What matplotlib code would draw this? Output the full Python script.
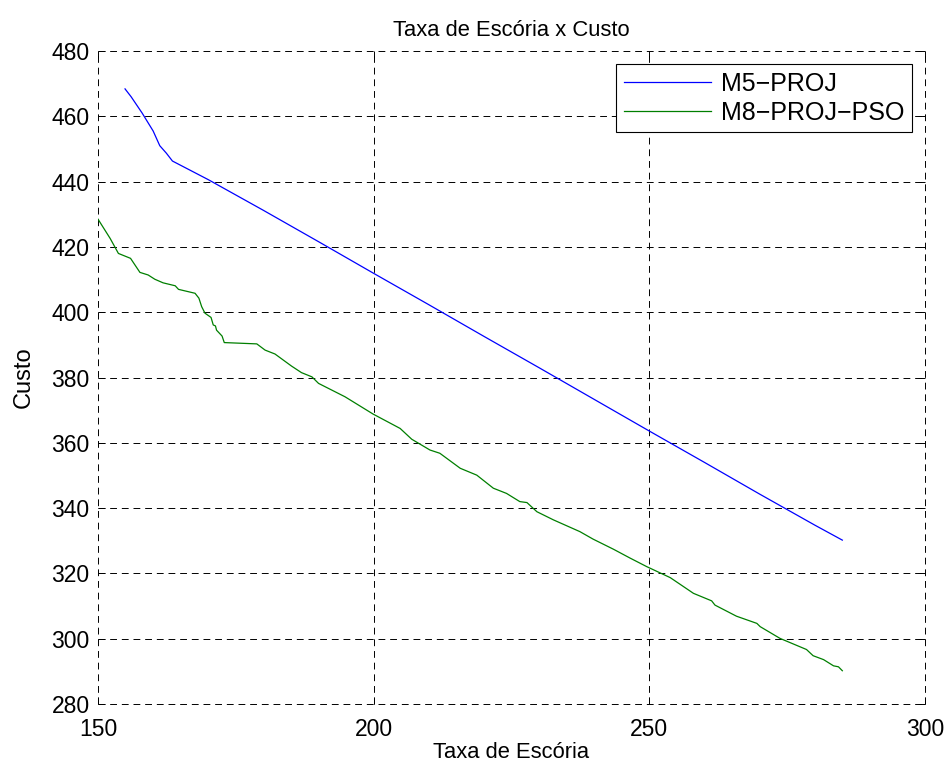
import matplotlib
matplotlib.use("Agg")
import matplotlib.pyplot as plt

# Slag rate vs cost for the two models
m5_x = [154.9, 156.0, 158.0, 160.0, 161.2, 162.4, 163.5, 170.0, 180.0, 190.0,
        200.0, 210.0, 220.0, 230.0, 240.0, 250.0, 260.0, 270.0, 280.0, 285.0]
m5_y = [468.4, 466.0, 461.0, 455.5, 451.0, 448.7, 446.3, 440.6, 431.2, 421.6,
        411.9, 402.3, 392.6, 383.0, 373.3, 363.6, 354.0, 344.3, 334.8, 330.2]

m8_x = [150.0, 152.2, 153.7, 155.9, 157.6, 159.1, 160.3, 161.8, 164.0, 164.6,
        167.6, 168.3, 168.8, 169.4, 170.5, 170.9, 171.3, 171.5, 172.5, 172.9,
        178.8, 180.3, 182.1, 185.1, 186.9, 188.8, 190.0, 194.8, 199.9, 204.8,
        206.9, 210.2, 212.0, 215.7, 218.7, 221.7, 224.1, 226.5, 227.8, 229.6,
        232.6, 237.4, 239.8, 243.5, 246.5, 249.5, 253.8, 258.0, 261.3, 261.9,
        265.8, 269.5, 270.1, 273.7, 278.5, 279.7, 281.6, 283.4, 284.3, 285.0]
m8_y = [428.5, 422.6, 418.0, 416.5, 412.2, 411.4, 410.1, 409.0, 408.1, 407.0,
        405.8, 404.3, 401.7, 399.7, 398.4, 396.1, 395.8, 394.5, 392.7, 390.7,
        390.3, 388.4, 387.2, 383.5, 381.5, 380.2, 378.2, 374.1, 368.8, 364.4,
        361.1, 357.8, 356.8, 352.2, 350.1, 346.1, 344.5, 342.0, 341.7, 338.9,
        336.4, 332.8, 330.5, 327.4, 324.7, 322.1, 318.7, 313.9, 311.6, 310.3,
        306.9, 304.7, 303.7, 300.1, 296.7, 294.8, 293.6, 291.7, 291.4, 290.2]

x_ticks = [150, 200, 250, 300]
y_ticks = [280, 300, 320, 340, 360, 380, 400, 420, 440, 460, 480]

plt.rcParams['font.family'] = ['Liberation Sans', 'DejaVu Sans']

fig = plt.figure(figsize=(9.47, 7.67), dpi=100)
ax = fig.add_axes([0.1035, 0.0821, 0.8733, 0.8514])

ax.plot(m5_x, m5_y, color='#0000ff', lw=0.9, label='M5\u2212PROJ')
ax.plot(m8_x, m8_y, color='#007f00', lw=0.9, label='M8\u2212PROJ\u2212PSO')

ax.set_xlim(150, 300)
ax.set_ylim(280, 480)
ax.set_xticks(x_ticks)
ax.set_yticks(y_ticks)
ax.tick_params(axis='both', direction='in', top=True, right=True, length=5,
               width=0.7, labelsize=16.5)
ax.tick_params(axis='x', pad=10)
ax.tick_params(axis='y', pad=6)
ax.grid(True, color='black', linestyle=(0, (7, 5)), linewidth=0.7)
# the dashed grid also forms the frame, so keep the edge lines unclipped
for gl in ax.get_xgridlines() + ax.get_ygridlines():
    gl.set_clip_on(False)
for s in ax.spines.values():
    s.set_visible(False)

ax.set_title('Taxa de Esc\u00f3ria x Custo', fontsize=15.8, pad=11)
ax.set_xlabel('Taxa de Esc\u00f3ria', fontsize=15.8, labelpad=1)
ax.set_ylabel('Custo', fontsize=17, labelpad=12)

leg = ax.legend(loc='upper right', fontsize=18, fancybox=False,
                framealpha=1, edgecolor='black', borderaxespad=0.52,
                handlelength=3.5, handletextpad=0.4, borderpad=0.3,
                labelspacing=0.2)
leg.get_frame().set_linewidth(0.8)

fig.savefig('out.png', dpi=100)
